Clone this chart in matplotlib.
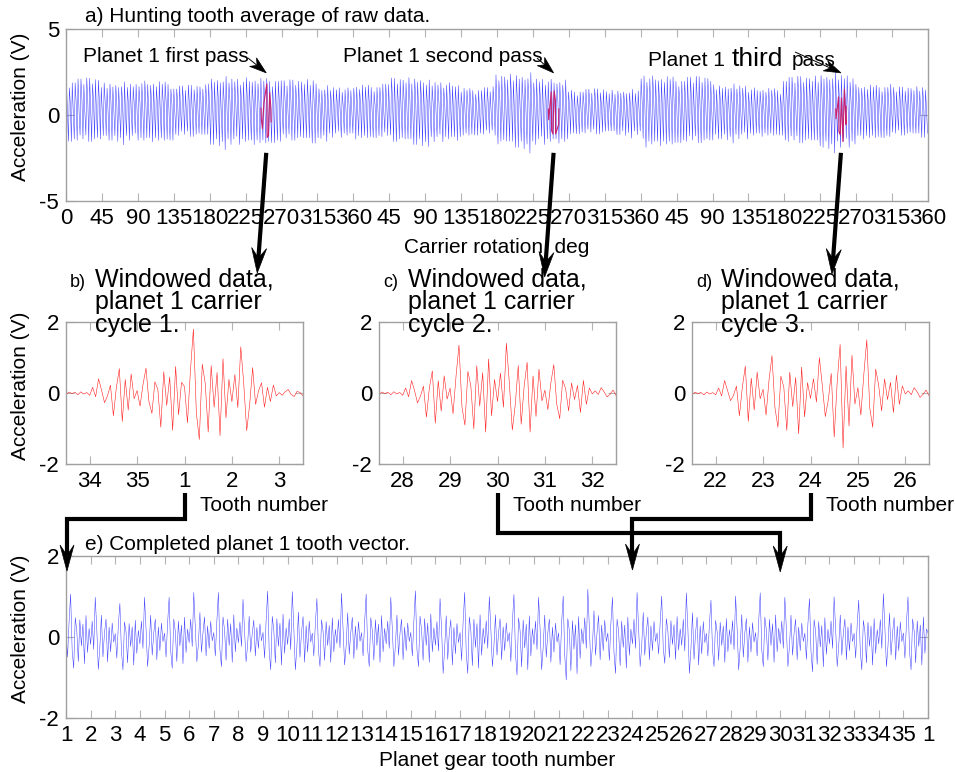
import numpy as np
import matplotlib
matplotlib.use("Agg")
import matplotlib.pyplot as plt
from matplotlib.lines import Line2D
from matplotlib.patches import Polygon

plt.rcParams["font.family"] = ["Liberation Sans", "DejaVu Sans"]
plt.rcParams["axes.unicode_minus"] = False

# ---------------------------------------------------------------- data
planet_teeth = 35
ring_teeth = 99
samples_per_tooth = 16

# positive spike height and negative trough depth of each planet tooth (V)
peak_height = [1.06, 0.98, 0.83, 0.98, 0.98, 1.10, 1.10, 0.93, 1.13, 1.12,
               0.95, 1.08, 1.06, 0.98, 1.14, 0.95, 1.10, 1.00, 1.05, 0.98,
               1.01, 1.18, 0.98, 1.10, 1.01, 1.09, 0.91, 1.01, 1.09, 0.98,
               0.95, 0.99, 0.91, 1.07, 0.99]
trough_depth = [0.77, 0.80, 0.81, 0.73, 0.77, 0.61, 0.73, 0.61, 0.81, 0.81,
                0.73, 0.69, 0.73, 0.73, 0.73, 0.90, 0.90, 0.73, 0.94, 0.81,
                1.06, 0.73, 0.90, 0.73, 0.65, 0.90, 0.73, 0.81, 0.73, 0.73,
                0.86, 0.73, 0.81, 0.73, 0.81]

# mesh waveform over one tooth period (odd / even numbered teeth)
mesh_shape_odd = [0.10, -0.45, 0.35, 1.00, -0.30, -0.70, 0.45, 0.15,
                  -0.55, 0.40, -0.20, 0.30, -0.60, 0.50, -0.35, 0.20]
mesh_shape_even = [-0.15, 0.40, -0.25, 1.00, 0.20, -0.65, -0.20, 0.55,
                   -0.40, 0.10, 0.45, -0.50, 0.25, -0.30, 0.35, -0.10]

# raw-signal envelope per 45 deg of carrier rotation, three rotations (V)
raw_envelope = [2.1, 1.8, 2.0, 1.7, 2.1, 2.2, 2.0, 1.6,
                1.8, 2.1, 1.9, 1.6, 2.3, 2.1, 1.5, 1.4,
                2.3, 2.2, 1.7, 1.6, 2.2, 2.3, 1.8, 1.6]

# windowed data amplitude per half tooth, planet 1 carrier cycles 1-3 (V)
window_env_1 = [0.05, 0.40, 0.80, 0.70, 1.05, 1.80, 1.20, 1.30, 0.40, 0.10]
window_env_2 = [0.05, 0.35, 0.85, 1.35, 1.10, 1.40, 1.10, 0.80, 0.55, 0.15]
window_env_3 = [0.05, 0.35, 0.80, 1.05, 1.15, 1.00, 1.55, 1.50, 0.55, 0.15]
window_envs = [window_env_1, window_env_2, window_env_3]

# planet tooth in mesh at each pass and the ring mesh index of that pass
window_centre_tooth = [1, 30, 24]
window_centre_mesh = [69, 168, 267]

carrier_labels = ["0", "45", "90", "135", "180", "225", "270", "315", "360"] + \
                 ["45", "90", "135", "180", "225", "270", "315", "360"] * 2
tooth_labels = [str(t) for t in range(1, planet_teeth + 1)] + ["1"]


# ---------------------------------------------------------- signal build
def tooth_vector(p):
    s = np.array(mesh_shape_odd if p % 2 == 0 else mesh_shape_even)
    s = np.where(s >= 0, s / s.max(), s / -s.min())
    return np.where(s >= 0, s * peak_height[p], s * trough_depth[p])


tooth_vecs = [tooth_vector(p) for p in range(planet_teeth)]
S = samples_per_tooth

# completed tooth vector
vec_y = np.concatenate(tooth_vecs + [tooth_vecs[0][:1]])
vec_x = np.arange(len(vec_y)) / S


def windowed(centre, env):
    i = np.arange(5 * S + 1)
    x = -2.5 + i / S
    off = np.floor(x).astype(int)
    phase = (i - 40) % S
    teeth = (centre - 1 + off) % planet_teeth
    raw = np.array([tooth_vecs[t][ph] for t, ph in zip(teeth, phase)])
    bins = np.clip(np.floor((x + 2.5) * 2).astype(int), 0, 9)
    y = np.empty_like(raw)
    for b in range(10):
        m = bins == b
        y[m] = raw[m] * env[b] / np.abs(raw[m]).max()
    return x, y, bins


def peak_decimate(x, y, bins):
    # one max/min pair per tooth, used for the coarse view in panel a
    xs, ys = [], []
    for b in range(0, 10, 2):
        m = (bins == b) | (bins == b + 1)
        xb, yb = x[m], y[m]
        for j in sorted([int(yb.argmax()), int(yb.argmin())]):
            xs.append(xb[j])
            ys.append(yb[j])
    return np.array(xs), np.array(ys)


mesh_deg = 360.0 / ring_teeth
raw_x, raw_y = [], []
for k in range(3 * ring_teeth):
    p = (k - window_centre_mesh[0]) % planet_teeth
    tv = tooth_vecs[p]
    env = raw_envelope[int(((k + 0.5) * mesh_deg) // 45)]
    vals = [tv.max(), tv[9], tv.min()]
    for f, v in zip([0.15, 0.5, 0.85], vals):
        raw_x.append((k + f) * mesh_deg)
        raw_y.append(v * env / 1.1)

windows = [windowed(c, e) for c, e in zip(window_centre_tooth, window_envs)]

# ---------------------------------------------------------------- figure
W, H = 955, 772
fig = plt.figure(figsize=(W / 100, H / 100), dpi=100)


def px_axes(left, top, right, bottom):
    return fig.add_axes([left / W, 1 - bottom / H, (right - left) / W, (bottom - top) / H])


def style(ax):
    for s in ax.spines.values():
        s.set_color("#a0a0a0")
        s.set_linewidth(1.0)
    ax.tick_params(direction="in", top=True, right=True, length=6, width=0.8,
                   color="#b4b4b4", labelsize=16, pad=5, labelcolor="black")


FS = 15

# a) raw data
ax_a = px_axes(66, 29, 928, 201)
ax_a.plot(raw_x, raw_y, color="#3c3cff", lw=0.35)
for (wx, wy, wb), kc in zip(windows, window_centre_mesh):
    dx, dy = peak_decimate(wx, wy, wb)
    ax_a.plot((kc + dx) * mesh_deg, dy, color="#c8206e", lw=0.8)
ax_a.set_xlim(0, 1080)
ax_a.set_ylim(-5, 5)
ax_a.set_xticks(np.arange(0, 1081, 45))
ax_a.set_xticklabels(carrier_labels)
ax_a.set_yticks([-5, 0, 5])
ax_a.set_yticklabels(["-5", "0", "5"])
style(ax_a)

# b), c), d) windowed data
win_axes = []
for (wx, wy, wb), centre, left in zip(windows, window_centre_tooth, [66, 379, 692]):
    ax = px_axes(left, 322, left + 237, 464)
    ax.plot(wx, wy, color="#ff2020", lw=0.4)
    ax.set_xlim(-2.5, 2.5)
    ax.set_ylim(-2, 2)
    ax.set_xticks([-2, -1, 0, 1, 2])
    ax.set_xticklabels([str((centre - 1 + o) % planet_teeth + 1) for o in (-2, -1, 0, 1, 2)])
    ax.set_yticks([-2, 0, 2])
    ax.set_yticklabels(["-2", "0", "2"])
    style(ax)
    win_axes.append(ax)

# e) completed tooth vector
ax_e = px_axes(66, 556, 928, 718)
ax_e.plot(vec_x, vec_y, color="#3c3cff", lw=0.35)
ax_e.set_xlim(0, planet_teeth)
ax_e.set_ylim(-2, 2)
ax_e.set_xticks(np.arange(planet_teeth + 1))
ax_e.set_xticklabels(tooth_labels)
ax_e.set_yticks([-2, 0, 2])
ax_e.set_yticklabels(["-2", "0", "2"])
style(ax_e)

# overlay in pixel units for annotations and connectors
ov = fig.add_axes([0, 0, 1, 1], zorder=10)
ov.set_xlim(0, W)
ov.set_ylim(H, 0)
ov.axis("off")


def to_px(ax, x, y):
    return ov.transData.inverted().transform(ax.transData.transform((x, y)))


def arrow(points, lw, L, Wd, notch=0.6, color="black"):
    pts = np.array(points, float)
    tip, prev = pts[-1], pts[-2]
    d = tip - prev
    d /= np.hypot(*d)
    n = np.array([-d[1], d[0]])
    base = tip - L * d
    back = tip - notch * L * d
    line = np.vstack([pts[:-1], back])
    ov.add_line(Line2D(line[:, 0], line[:, 1], lw=lw, color=color,
                       solid_joinstyle="miter", solid_capstyle="butt"))
    ov.add_patch(Polygon([tip, base + Wd * n, back, base - Wd * n], closed=True,
                         fc=color, ec=color, lw=0.5))


def txt(x, y, s, size=FS, **kw):
    ov.text(x, y, s, fontsize=size, va="baseline", ha=kw.pop("ha", "left"), **kw)


# titles and labels
txt(85, 22.5, "a) Hunting tooth average of raw data.")
txt(497, 252.7, "Carrier rotation, deg", ha="center")
txt(83, 61.5, "Planet 1 first pass")
txt(343, 61.5, "Planet 1 second pass")
txt(648, 65.5, "Planet 1")
txt(732, 65.5, "third", size=19)
txt(792, 65.5, "pass")

for ax, letter, n in zip(win_axes, ["b)", "c)", "d)"], [1, 2, 3]):
    x0 = to_px(ax, -2.5, 0)[0]
    txt(x0 + 4, 287, letter, size=13)
    txt(x0 + 29, 287, "Windowed data,", size=18)
    txt(x0 + 29, 309.5, "planet 1 carrier", size=18)
    txt(x0 + 29, 332, f"cycle {n}.", size=18)
    txt(x0 + 134, 511, "Tooth number")

txt(85, 550, "e) Completed planet 1 tooth vector.")
txt(497, 766, "Planet gear tooth number", ha="center")

for yc in (107, 386, 629):
    ov.text(21, yc, "Acceleration (V)", fontsize=FS, rotation=90, ha="center", va="center")

# pass markers
pass_tails = [(248, 58), (537, 58), (795, 52)]
for kc, tail in zip(window_centre_mesh, pass_tails):
    tip = to_px(ax_a, kc * mesh_deg, 2.45)
    arrow([tail, tip], lw=0.7, L=17, Wd=5.5, notch=0.7)

# arrows from each pass down to its windowed panel
tip_y = [273, 277, 274]
for kc, ty in zip(window_centre_mesh, tip_y):
    start = to_px(ax_a, kc * mesh_deg, -2.2)
    arrow([start, (start[0] - 9, ty)], lw=3, L=25, Wd=7.5)

# connectors from the centre tooth of each window to the completed vector
b_x = to_px(win_axes[0], 0, 0)[0]
e1 = to_px(ax_e, 0, 0)[0] + 1
arrow([(b_x, 493), (b_x, 519), (e1, 519), (e1, 571)], lw=3, L=26, Wd=7)

c_x = to_px(win_axes[1], 0, 0)[0]
e30 = to_px(ax_e, 29, 0)[0]
arrow([(c_x, 493), (c_x, 533), (e30, 533), (e30, 572)], lw=3, L=26, Wd=7)

d_x = to_px(win_axes[2], 0, 0)[0]
e24 = to_px(ax_e, 23, 0)[0]
arrow([(d_x, 493), (d_x, 519), (e24, 519), (e24, 570)], lw=3, L=26, Wd=7)

fig.savefig("out.png", dpi=100)
